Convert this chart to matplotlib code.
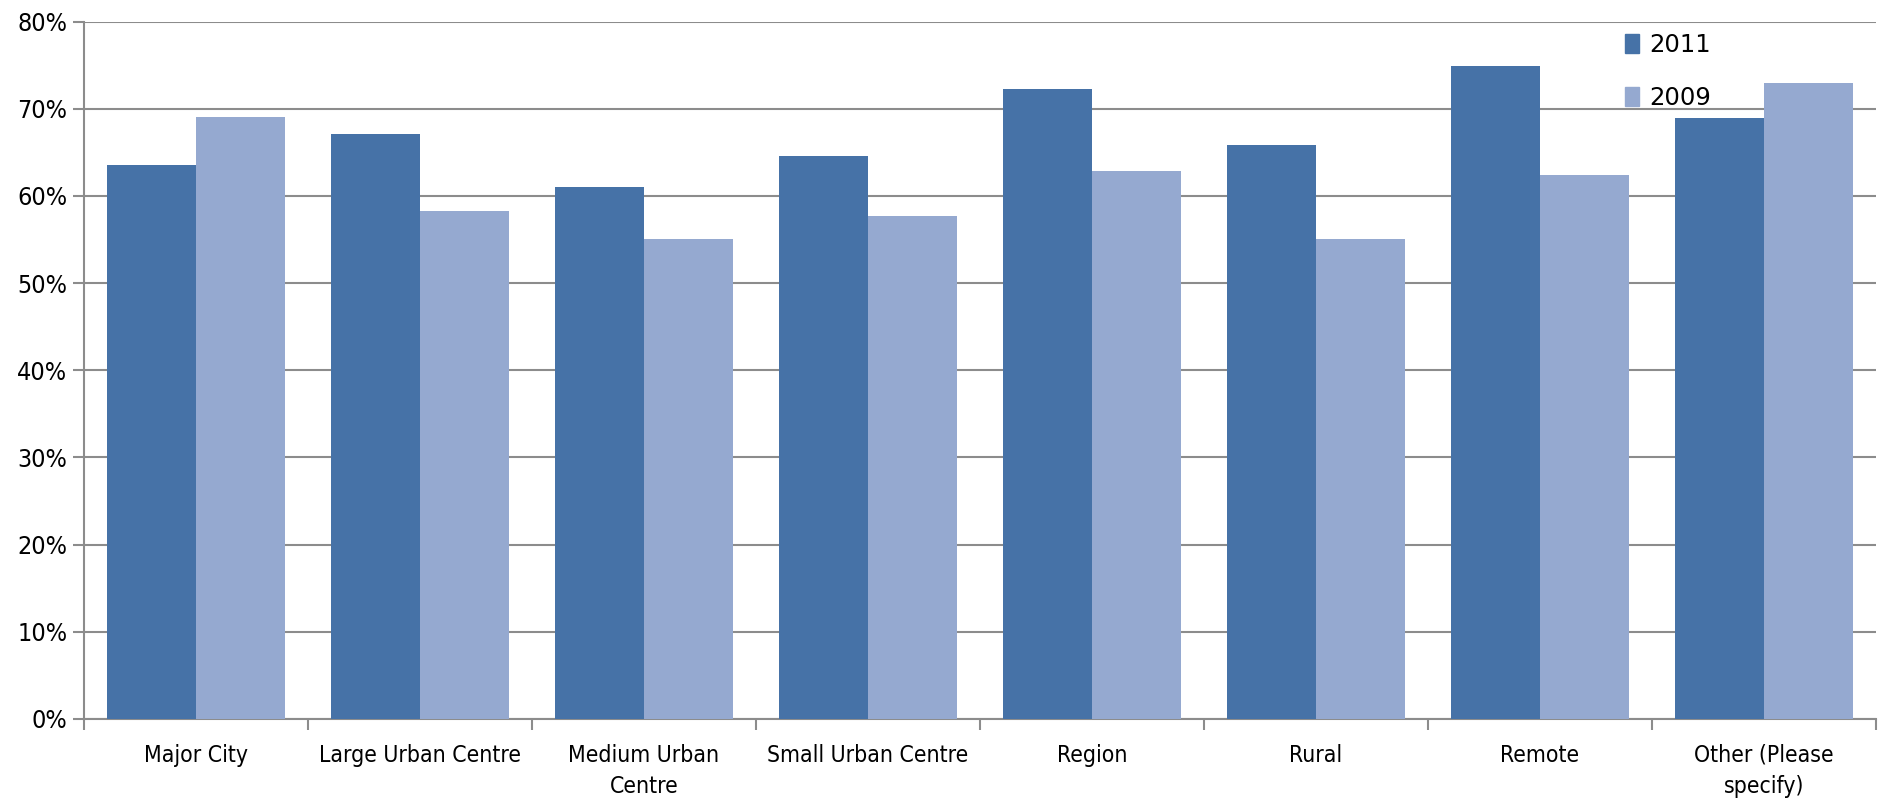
import matplotlib
matplotlib.use("Agg")
from matplotlib import pyplot as plt
from matplotlib.ticker import FuncFormatter, FixedLocator
from matplotlib.patches import Patch
from matplotlib import font_manager
import numpy as np

categories = ["Major City", "Large Urban Centre", "Medium Urban\nCentre", "Small Urban Centre",
              "Region", "Rural", "Remote", "Other (Please\nspecify)"]
vals_2011 = [63.6, 67.1, 61.0, 64.6, 72.3, 65.8, 74.9, 68.9]
vals_2009 = [69.1, 58.3, 55.0, 57.7, 62.8, 55.0, 62.4, 73.0]
series_names = ["2011", "2009"]

# pick a narrow font if one is there, Calibri-like
names = set(f.name for f in font_manager.fontManager.ttflist)
fams = [n for n in ["Liberation Sans Narrow", "DejaVu Sans Condensed"] if n in names]
plt.rcParams['font.family'] = fams + ['DejaVu Sans']
stretch = "normal" if fams else "condensed"

fig = plt.figure(figsize=(18.81, 7.98), dpi=100)
ax = fig.add_axes([0.0447, 0.099, 0.9526, 0.874])

x = np.arange(len(categories))
w = 0.397
c2011 = "#4672A7"
c2009 = "#95A9D0"
ax.bar(x - w/2, vals_2011, w, color=c2011, zorder=3)
ax.bar(x + w/2, vals_2009, w, color=c2009, zorder=3)

ax.set_xlim(-0.5, len(categories) - 0.5)
ax.set_ylim(0, 80)
ax.set_yticks(range(0, 81, 10))
ax.yaxis.set_major_formatter(FuncFormatter(lambda v, p: f"{int(v)}%"))
ax.grid(axis="y", color="#8c8c8c", linewidth=1.5, zorder=0)

ax.set_xticks(x)
ax.set_xticklabels(categories, fontsize=16.5, linespacing=1.45)
ax.xaxis.set_minor_locator(FixedLocator(np.arange(-0.5, len(categories), 1.0)))
ax.tick_params(axis="x", which="major", length=0, pad=18)
ax.tick_params(axis="x", which="minor", length=8, width=1.5, color="#8c8c8c")
ax.tick_params(axis="y", length=8, width=1.5, color="#8c8c8c", labelsize=18, pad=4)

for s in ["top", "right"]:
    ax.spines[s].set_visible(False)
for s in ["left", "bottom"]:
    ax.spines[s].set_color("#8c8c8c")
    ax.spines[s].set_linewidth(1.5)

handles = [Patch(color=c2011), Patch(color=c2009)]
fig.legend(handles, series_names, loc="upper left", bbox_to_anchor=(1603/1881, 1 - 11/798),
           frameon=False, fontsize=17.5, handlelength=0.6, handleheight=0.85,
           handletextpad=0.4, labelspacing=1.2)

if not fams:
    for t in ax.get_xticklabels() + ax.get_yticklabels():
        t.set_fontstretch(stretch)

fig.savefig("out.png", dpi=100)
